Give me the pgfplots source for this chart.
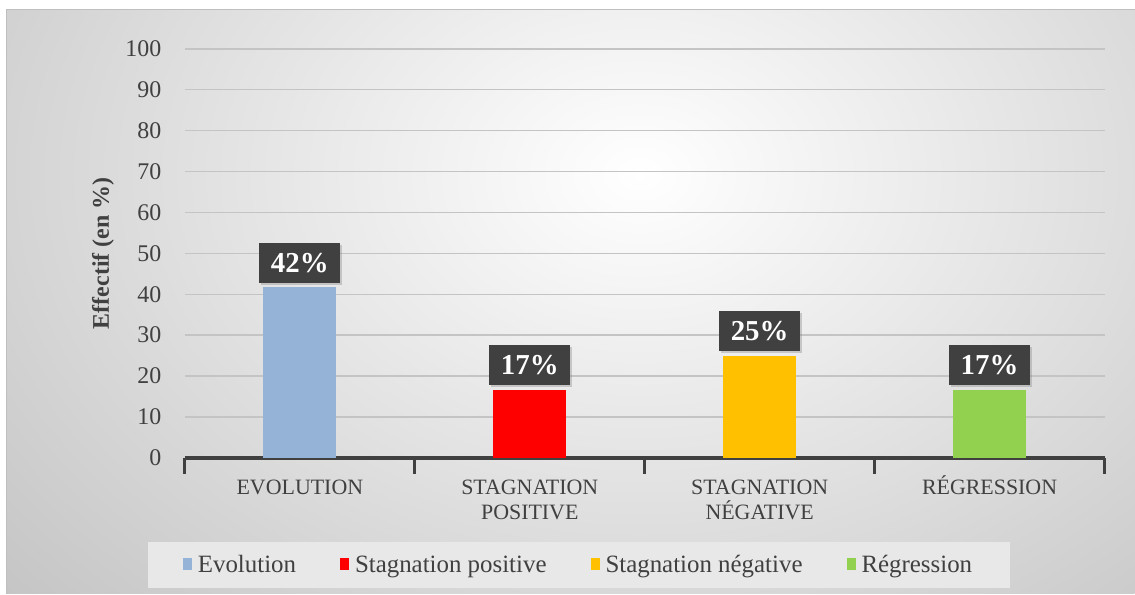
\documentclass[border=0pt]{standalone}
\usepackage{fontspec}
\setmainfont{Liberation Serif}
\usepackage{pgfplots}
\pgfplotsset{compat=1.18}
\usetikzlibrary{shadows}

\definecolor{evo}{HTML}{95B3D7}
\definecolor{spos}{HTML}{FF0000}
\definecolor{sneg}{HTML}{FFC000}
\definecolor{reg}{HTML}{92D050}
\definecolor{txt}{HTML}{404040}
\definecolor{gridc}{HTML}{C4C4C4}

\newcommand{\capstrut}{\vphantom{É}}

\begin{document}
\begin{tikzpicture}[x=1bp,y=1bp]
% page frame and chart area background
\path[fill=white] (0,0) rectangle (1135,594);
\begin{scope}
  \clip (7,0) rectangle (1135,584);
  \shade[inner color=white, outer color=black!32] (640,420) ellipse (1200 and 880);
\end{scope}
\draw[black!25, line width=1bp] (7,0) -- (7,584) -- (1135,584);
% legend panel
\fill[black!9] (148,6) rectangle (1010,52);

\begin{axis}[
    at={(185bp,136bp)}, anchor=south west,
    scale only axis,
    width=920bp, height=409bp,
    xmin=-0.5, xmax=3.5,
    ymin=0, ymax=100,
    clip=false,
    axis x line*=bottom,
    axis y line*=left,
    y axis line style={draw=none},
    x axis line style={draw=txt, line width=3.5bp, -},
    ytick={0,10,...,100},
    ymajorgrids, xmajorgrids=false,
    y grid style={gridc, line width=1.3bp},
    ytick style={draw=none},
    xtick={0,1,2,3},
    xticklabels={\capstrut EVOLUTION, \capstrut STAGNATION\\POSITIVE, \capstrut STAGNATION\\NÉGATIVE, \capstrut RÉGRESSION},
    major x tick style={draw=none},
    minor xtick={-0.5,0.5,1.5,2.5,3.5},
    minor x tick style={draw=txt, line width=3bp},
    minor tick length=16bp,
    tick align=center,
    xticklabel style={font=\fontsize{22}{25}\selectfont, text=txt, align=center, yshift=-10bp},
    yticklabel style={font=\fontsize{24}{26}\selectfont, text=txt, xshift=-18bp},
    /pgf/number format/assume math mode=true,
    ylabel={Effectif (en \%)},
    ylabel style={font=\fontsize{24}{26}\selectfont\bfseries, text=txt, at={(axis description cs:-0.089,0.5)}, anchor=center},
    ybar, bar width=73bp,
    nodes near coords,
    point meta=explicit symbolic,
    every node near coord/.append style={
        font=\fontsize{29}{32}\selectfont\bfseries, text=white, fill=txt,
        minimum width=81bp, minimum height=40bp, inner sep=0pt,
        anchor=south, yshift=4bp,
        drop shadow={opacity=0.35, shadow xshift=2bp, shadow yshift=-2bp}},
    legend columns=4,
    legend style={at={(axis description cs:0.428,-0.262)}, anchor=center,
        draw=none, fill=none, font=\fontsize{25}{27}\selectfont, text=txt,
        /tikz/every even column/.append style={column sep=42bp}},
    legend image code/.code={\fill[#1] (0bp,-5bp) rectangle (9bp,7bp); \path (13bp,0bp);},
]
\addplot[fill=evo, draw=none, bar shift=0pt] coordinates {(0,41.67) [42\%]};
\addlegendentry{Evolution}
\addplot[fill=spos, draw=none, bar shift=0pt] coordinates {(1,16.67) [17\%]};
\addlegendentry{Stagnation positive}
\addplot[fill=sneg, draw=none, bar shift=0pt] coordinates {(2,25) [25\%]};
\addlegendentry{Stagnation négative}
\addplot[fill=reg, draw=none, bar shift=0pt] coordinates {(3,16.67) [17\%]};
\addlegendentry{Régression}
\end{axis}
\end{tikzpicture}
\end{document}
